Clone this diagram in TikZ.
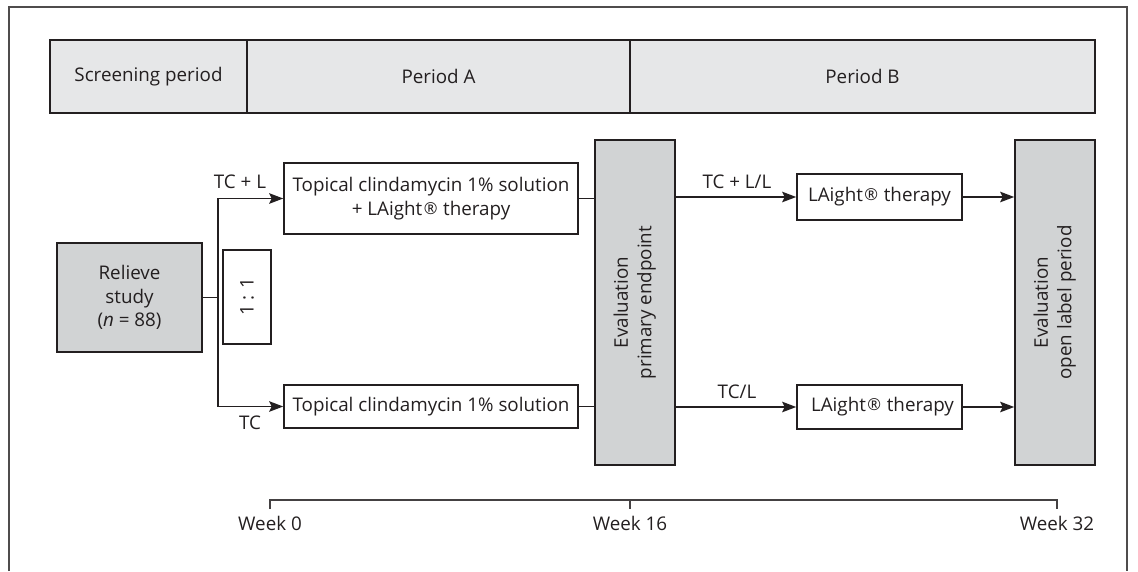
\documentclass[tikz,border=0pt]{standalone}
\usepackage{fontspec}
\setmainfont{Open Sans}
\usetikzlibrary{arrows.meta}
\definecolor{ln}{HTML}{231F20}
\definecolor{hdr}{HTML}{E6E7E8}
\definecolor{dk}{HTML}{D1D3D4}
\newcommand{\reg}{\hspace{0.08em}\raisebox{0.1ex}{\fontsize{16.5}{20}\selectfont ®}\hspace{0.3em}}
\begin{document}
\begin{tikzpicture}[x=1pt,y=-1pt,
  every node/.style={font=\fontsize{18.8}{23.5}\selectfont, text=ln},
  box/.style={draw=ln, line width=1.6pt, rectangle, inner sep=0pt, align=center},
  hbox/.style={box, fill=hdr, minimum height=73pt},
  gbox/.style={box, fill=dk},
  wbox/.style={box, fill=white},
  conn/.style={draw=ln, line width=1.6pt},
  arr/.style={conn, -{Stealth[length=14pt,width=10.5pt,inset=2.5pt]}},
  lbl/.style={inner sep=0pt}]
\useasboundingbox (0,0) rectangle (1138,571);
% outer frame (open at bottom)
\draw[ln!80, line width=1.3pt] (9,571) -- (9,7) -- (1127,7) -- (1127,571);
% header
\node[hbox, minimum width=197pt] (scr) at (148.5,76.5) {Screening period};
\node[hbox, minimum width=383pt] (pa) at (438.5,76.5) {Period A};
\node[hbox, minimum width=465pt] (pb) at (862.5,76.5) {Period B};
% nodes
\node[gbox, minimum width=145pt, minimum height=109pt] (rel) at (129.5,297.5) {Relieve\\study\\(\textit{n} = 88)};
\node[wbox, minimum width=48pt, minimum height=94pt] (ratio) at (247,297) {\rotatebox{90}{1 : 1}};
\node[wbox, minimum width=294pt, minimum height=71pt] (top) at (431,198.5) {Topical clindamycin 1\% solution\\+ LAight\reg therapy};
\node[wbox, minimum width=294pt, minimum height=43pt] (bot) at (431,406.5) {Topical clindamycin 1\% solution};
\node[gbox, minimum width=80pt, minimum height=325pt] (ev1) at (635,302.5) {\rotatebox{90}{\begin{tabular}{@{}c@{}}Evaluation\\primary endpoint\end{tabular}}};
\node[wbox, minimum width=165pt, minimum height=46pt] (la1) at (879.5,197) {\raisebox{-4pt}{LAight\reg therapy}};
\node[wbox, minimum width=165pt, minimum height=44pt] (la2) at (879.5,407) {\hspace{6pt}LAight\reg therapy};
\node[gbox, minimum width=80pt, minimum height=325pt] (ev2) at (1055,302.5) {\rotatebox{90}{\begin{tabular}{@{}c@{}}Evaluation\\open label period\end{tabular}}};
% connectors
\coordinate (split) at (218,297.5);
\draw[conn] (rel.east) -- (split);
\draw[arr] (split) |- (top.west);
\draw[arr] (split) |- (bot.west);
\draw[conn] (top.east) -- (top.east -| ev1.west);
\draw[conn] (bot.east) -- (bot.east -| ev1.west);
\draw[arr] (la1.west -| ev1.east) -- (la1.west);
\draw[arr] (la2.west -| ev1.east) -- (la2.west);
\draw[arr] (la1.east) -- (la1.east -| ev2.west);
\draw[arr] (la2.east) -- (la2.east -| ev2.west);
% labels
\node[lbl] (l1) at (240,182) {TC + L};
\node[lbl] (l2) at (250,423) {TC};
\node[lbl] (l3) at (737,182) {TC + L/L};
\node[lbl] (l4) at (737,392) {TC/L};
% timeline
\coordinate (t0) at (270,500);
\coordinate (t16) at (630,500);
\coordinate (t32) at (1057,500);
\draw[ln!85, line width=1.2pt] ([yshift=-9pt]t0) -- (t0) -- (t32) -- ([yshift=-9pt]t32);
\draw[ln!85, line width=1.2pt] (t16) -- ([yshift=-9pt]t16);
\node[lbl] (w0) at (270,523) {Week 0};
\node[lbl] (w16) at (630,523) {Week 16};
\node[lbl] (w32) at (1057,523) {Week 32};
\end{tikzpicture}
\end{document}
